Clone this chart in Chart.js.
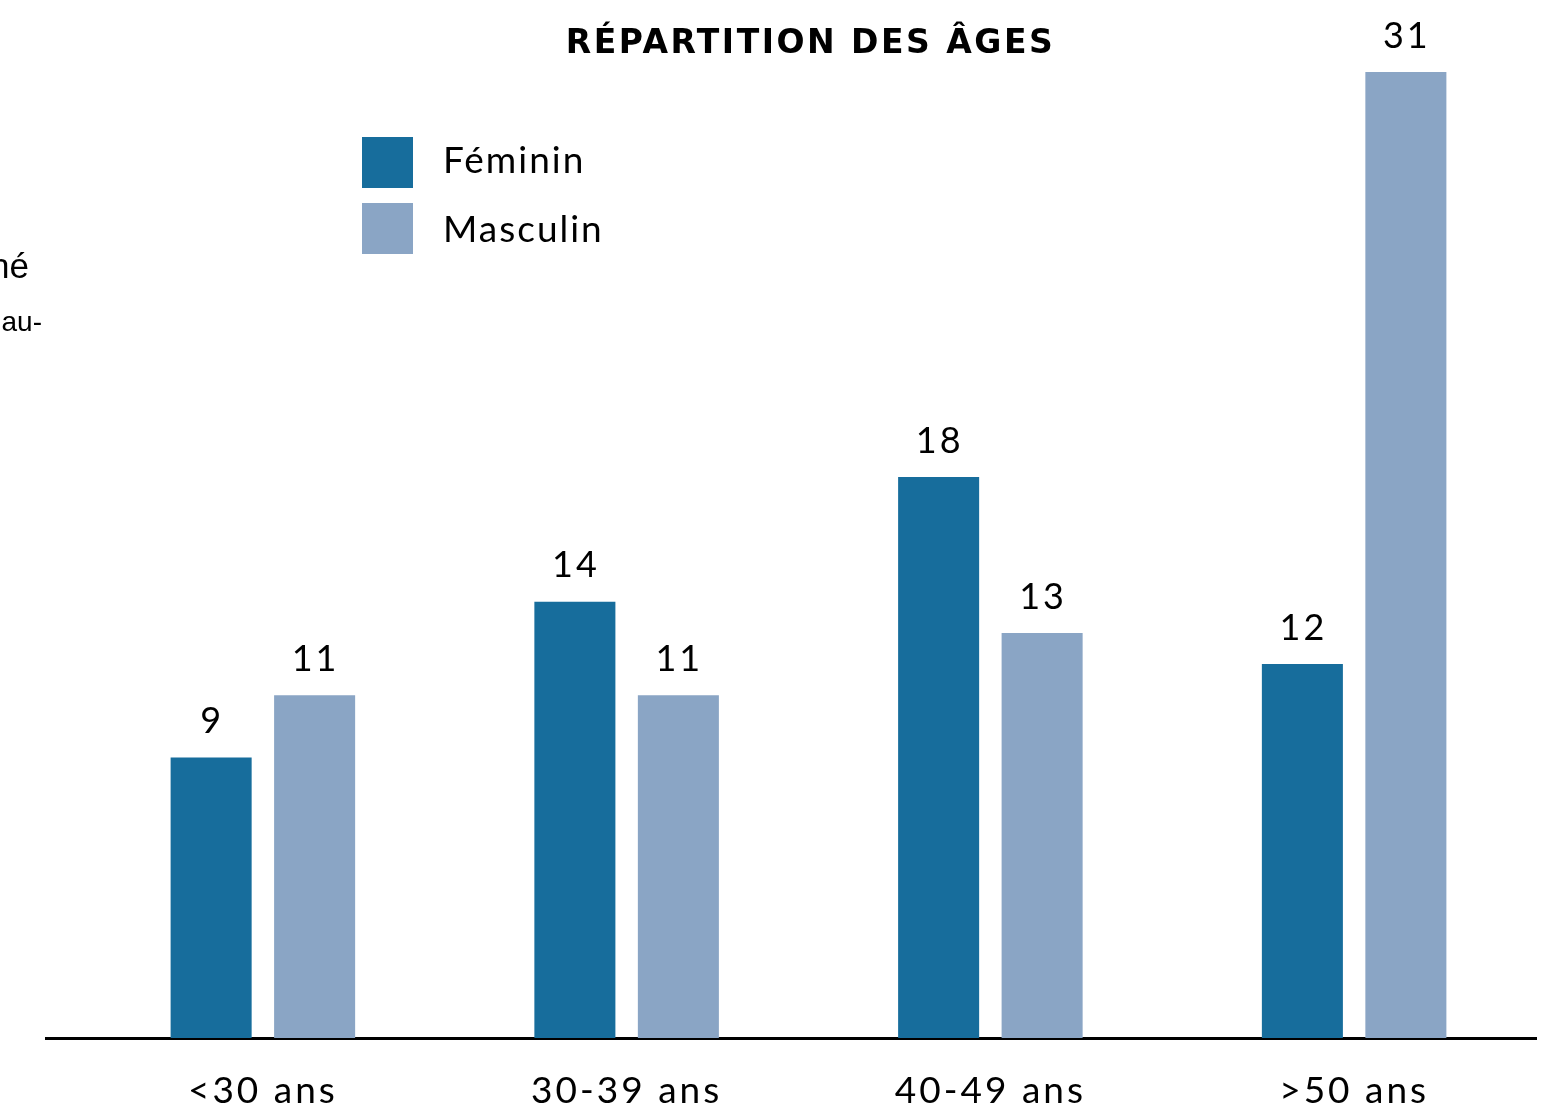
<!DOCTYPE html>
<html>
<head>
<meta charset="utf-8">
<script src="https://cdn.jsdelivr.net/npm/chart.js@4"></script>
<style>
  html, body { margin: 0; padding: 0; background: #fff; }
  #wrap { width: 1551px; height: 1113px; }
</style>
</head>
<body>
<div id="wrap"><canvas id="agechart" width="1551" height="1113"></canvas></div>
<script>
var chartTitle = 'RÉPARTITION DES ÂGES';
var categories = ['<30 ans', '30-39 ans', '40-49 ans', '>50 ans'];
var feminin = [9, 14, 18, 12];
var masculin = [11, 11, 13, 31];
var seriesNames = ['Féminin', 'Masculin'];
var seriesColors = ['#176D9C', '#8AA5C5'];

var FONT = 'Lato, "Noto Sans", sans-serif';

// letter spacing for the whole canvas (the original uses a wide spaced font)
var spacingPlugin = {
  id: 'spacing',
  beforeUpdate: function (chart) { chart.ctx.letterSpacing = '3px'; },
  beforeDraw: function (chart) { chart.ctx.letterSpacing = '3px'; }
};

// title, numbers above bars, legend boxes, axis stub and cut-off margin text
var extrasPlugin = {
  id: 'extras',
  afterDatasetsDraw: function (chart) {
    var ctx = chart.ctx;
    var area = chart.chartArea;
    ctx.save();

    // title, centred over the plot area
    ctx.fillStyle = '#000';
    ctx.letterSpacing = '2.5px';
    ctx.font = 'bold 33px "DejaVu Sans", sans-serif';
    ctx.textAlign = 'center';
    ctx.textBaseline = 'alphabetic';
    ctx.fillText(chartTitle, (area.left + area.right) / 2 + 2, 53);

    // values above the bars
    ctx.letterSpacing = '3px';
    ctx.font = '36px ' + FONT;
    ctx.textBaseline = 'middle';
    chart.data.datasets.forEach(function (ds, i) {
      chart.getDatasetMeta(i).data.forEach(function (bar, j) {
        ctx.fillText(String(ds.data[j]), bar.x + 1, bar.y - 36);
      });
    });

    // legend
    ctx.letterSpacing = '2px';
    ctx.textAlign = 'left';
    ctx.textBaseline = 'alphabetic';
    ctx.font = '37px ' + FONT;
    chart.data.datasets.forEach(function (ds, i) {
      var y = 137 + i * 66;
      ctx.fillStyle = ds.backgroundColor;
      ctx.fillRect(362, y, 51, 51);
      ctx.fillStyle = '#000';
      ctx.fillText(ds.label, 443, y + 36 + i * 3);
    });

    // axis line continues to the left of the plot
    ctx.strokeStyle = '#000';
    ctx.lineWidth = 3;
    ctx.beginPath();
    ctx.moveTo(45, area.bottom + 0.5);
    ctx.lineTo(area.left, area.bottom + 0.5);
    ctx.stroke();

    // text cut off at the page edge
    ctx.letterSpacing = '0px';
    ctx.textAlign = 'right';
    ctx.font = '35px "Liberation Sans", sans-serif';
    ctx.fillText('né', 29, 278);
    ctx.font = '28px "Liberation Sans", sans-serif';
    ctx.fillText('au-', 42, 331);
    ctx.restore();
  }
};

new Chart(document.getElementById('agechart').getContext('2d'), {
  type: 'bar',
  data: {
    labels: categories,
    datasets: [
      { label: seriesNames[0], data: feminin, backgroundColor: seriesColors[0] },
      { label: seriesNames[1], data: masculin, backgroundColor: seriesColors[1] }
    ]
  },
  options: {
    responsive: false,
    animation: false,
    layout: { padding: { left: 81, right: 15, top: 72, bottom: 0 } },
    datasets: {
      bar: { categoryPercentage: 0.569, barPercentage: 0.783 }
    },
    plugins: {
      legend: { display: false },
      tooltip: { enabled: false }
    },
    scales: {
      x: {
        grid: { display: false, drawTicks: false },
        border: { display: true, color: '#000', width: 3 },
        ticks: {
          color: '#000',
          padding: 31,
          font: { family: FONT, size: 37, lineHeight: 1.2 }
        },
        afterFit: function (scale) { scale.height = 75; }
      },
      y: {
        display: false,
        min: 0,
        max: 31
      }
    }
  },
  plugins: [spacingPlugin, extrasPlugin]
});
</script>
</body>
</html>
